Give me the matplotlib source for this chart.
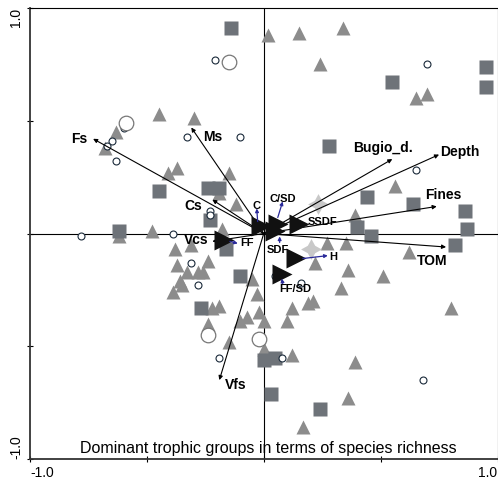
import matplotlib
matplotlib.use("Agg")
import matplotlib.pyplot as plt

plt.rcParams['font.family'] = ['Liberation Sans', 'DejaVu Sans']

# sites: grey triangles
tri_pts = [(-0.45, 0.53), (-0.30, 0.51), (-0.63, 0.45), (-0.68, 0.38), (-0.41, 0.27),
           (-0.37, 0.29), (-0.15, 0.27), (-0.19, 0.18), (-0.12, 0.13), (-0.18, 0.02),
           (-0.62, -0.01), (-0.48, 0.01), (-0.38, -0.07), (-0.31, -0.05), (0.02, 0.88),
           (0.15, 0.89), (0.34, 0.91), (0.24, 0.75), (0.65, 0.60), (0.70, 0.62),
           (0.56, 0.21), (0.39, 0.08), (0.27, -0.04), (0.35, -0.04), (0.62, -0.08),
           (0.22, -0.13), (0.36, -0.16), (0.51, -0.19), (0.33, -0.24), (0.21, -0.30),
           (0.19, -0.31), (0.12, -0.33), (0.80, -0.33), (0.10, -0.39), (0.00, -0.39),
           (-0.02, -0.35), (-0.03, -0.27), (-0.05, -0.20), (0.00, -0.51), (0.12, -0.54),
           (0.39, -0.57), (0.36, -0.73), (0.17, -0.86), (-0.37, -0.14), (-0.24, -0.12),
           (-0.26, -0.17), (-0.28, -0.17), (-0.33, -0.17), (-0.36, -0.21), (-0.35, -0.23),
           (-0.39, -0.26), (-0.22, -0.33), (-0.19, -0.32), (-0.24, -0.40), (-0.07, -0.37),
           (-0.10, -0.39), (-0.15, -0.48)]

# sites: dark squares
sq_pts = [(-0.14, 0.91), (-0.45, 0.19), (-0.24, 0.20), (-0.19, 0.20), (-0.23, 0.06),
          (-0.62, 0.01), (0.95, 0.74), (0.55, 0.67), (0.95, 0.65), (0.28, 0.39),
          (0.44, 0.16), (0.64, 0.13), (0.40, 0.03), (0.86, 0.10), (0.87, 0.02),
          (0.46, -0.01), (0.82, -0.05), (0.00, -0.56), (0.05, -0.55), (0.03, -0.71),
          (0.24, -0.78), (-0.16, -0.07), (-0.10, -0.19), (-0.27, -0.33)]

# sites: small open circles
circ_pts = [(-0.21, 0.77), (-0.60, 0.47), (-0.33, 0.43), (-0.10, 0.43), (-0.65, 0.41),
            (-0.67, 0.39), (-0.63, 0.32), (-0.23, 0.10), (-0.23, 0.08), (-0.78, -0.01),
            (-0.39, 0.00), (0.70, 0.75), (0.65, 0.28), (0.16, -0.22), (0.05, -0.19),
            (0.08, -0.55), (0.68, -0.65), (-0.31, -0.13), (-0.28, -0.23), (-0.19, -0.55)]

# sites: large open circles
bigcirc_pts = [(-0.15, 0.76), (-0.59, 0.49), (-0.24, -0.45), (-0.02, -0.47)]

# sites: light stars
star_pts = [(0.23, 0.13), (0.20, -0.07)]

# environmental variables (arrow heads) and label positions
env_names = ["Fs", "Ms", "Cs", "Bugio_d.", "Depth", "Fines", "TOM", "Vfs", "Vcs"]
env_heads = [(-0.73, 0.42), (-0.31, 0.47), (-0.22, 0.15), (0.55, 0.33), (0.75, 0.35),
             (0.74, 0.12), (0.78, -0.06), (-0.19, -0.65), (-0.22, -0.035)]
env_labels = [(-0.79, 0.42), (-0.22, 0.43), (-0.30, 0.12), (0.51, 0.38), (0.84, 0.36),
              (0.77, 0.17), (0.72, -0.12), (-0.12, -0.67), (-0.29, -0.03)]

# trophic groups (black triangles), their small blue arrows and labels
troph_names = ["C", "C/SD", "SDF", "SSDF", "FF", "H", "FF/SD"]
troph_pts = [(-0.01, 0.035), (0.06, 0.04), (0.05, 0.01), (0.15, 0.04),
             (-0.17, -0.03), (0.14, -0.11), (0.08, -0.18)]
troph_arrow_from = [(-0.026, 0.053), (0.060, 0.071), (0.068, -0.040), None,
                    (-0.145, -0.035), (0.167, -0.111), (0.081, -0.222)]
troph_arrow_to = [(-0.030, 0.111), (0.081, 0.142), (0.068, -0.013), None,
                  (-0.111, -0.044), (0.274, -0.098), (0.077, -0.200)]
troph_labels = [(-0.03, 0.124), (0.081, 0.155), (0.060, -0.075), (0.250, 0.053),
                (-0.073, -0.044), (0.297, -0.102), (0.137, -0.244)]

title = "Dominant trophic groups in terms of species richness"

fig = plt.figure(figsize=(4.98, 4.87), dpi=100)
ax = fig.add_axes([30 / 498, 28 / 487, 467.5 / 498, 451 / 487])
ax.set_xlim(-1, 1)
ax.set_ylim(-1, 1)

ax.axhline(0, color='black', lw=0.8, zorder=1)
ax.axvline(0, color='black', lw=0.8, zorder=1)


def xs(pts):
    return [p[0] for p in pts]


def ys(pts):
    return [p[1] for p in pts]


ax.plot(xs(tri_pts), ys(tri_pts), '^', ms=10.5, color='#8c8c8c', mec='none', zorder=2)
ax.plot(xs(sq_pts), ys(sq_pts), 's', ms=9.5, color='#6e7379', mec='none', zorder=2)
ax.plot(xs(circ_pts), ys(circ_pts), 'o', ms=5, mfc='white', mec='#1a2a3a', mew=0.8, zorder=3)
ax.plot(xs(bigcirc_pts), ys(bigcirc_pts), 'o', ms=10.5, mfc='white', mec='#777777', mew=0.9, zorder=3)
ax.plot(xs(star_pts), ys(star_pts), marker=(4, 1, 0), ls='none', ms=15, color='#c8c8c8', mec='none', zorder=3)

# environmental arrows
for name, head, lab in zip(env_names, env_heads, env_labels):
    ax.annotate("", xy=head, xytext=(0, 0),
                arrowprops=dict(arrowstyle='-|>', color='black', lw=0.8,
                                mutation_scale=6, shrinkA=0, shrinkB=0), zorder=4)
    ax.text(lab[0], lab[1], name, fontsize=10, fontweight='bold',
            ha='center', va='center', zorder=6)

# trophic groups
ax.plot(xs(troph_pts), ys(troph_pts), '>', ms=15, color='#111111', mec='none', zorder=5)
for name, a, b, lab in zip(troph_names, troph_arrow_from, troph_arrow_to, troph_labels):
    if a is not None:
        ax.annotate("", xy=b, xytext=a,
                    arrowprops=dict(arrowstyle='-|>', color='#2a2a9a', lw=0.9,
                                    mutation_scale=5, shrinkA=0, shrinkB=0), zorder=6)
    ax.text(lab[0], lab[1], name, fontsize=8, fontweight='bold',
            ha='center', va='center', zorder=6)

ax.text(0.02, -0.953, title, fontsize=11.5, ha='center', va='center', zorder=6)

# axes frame and ticks
for side in ['top', 'right']:
    ax.spines[side].set_linewidth(0.8)
for side in ['left', 'bottom']:
    ax.spines[side].set_linewidth(1.3)
    ax.spines[side].set_color('#333333')

ax.set_xticks([-1, -0.5, 0, 0.5, 1])
ax.set_xticklabels(['-1.0', '', '', '', '1.0'], fontsize=10)
ax.set_yticks([-1, -0.5, 0, 0.5, 1])
ax.set_yticklabels(['-1.0', '', '', '', '1.0'], fontsize=10, rotation=90)
ax.tick_params(direction='inout', length=4, width=0.8, pad=3)
xl = ax.get_xticklabels()
xl[0].set_ha('left')
xl[-1].set_ha('right')
yl = ax.get_yticklabels()
yl[0].set_va('bottom')
yl[-1].set_va('top')
for t in yl:
    t.set_ha('center')
ax.tick_params(axis='y', pad=8)

fig.savefig("out.png", dpi=100)
